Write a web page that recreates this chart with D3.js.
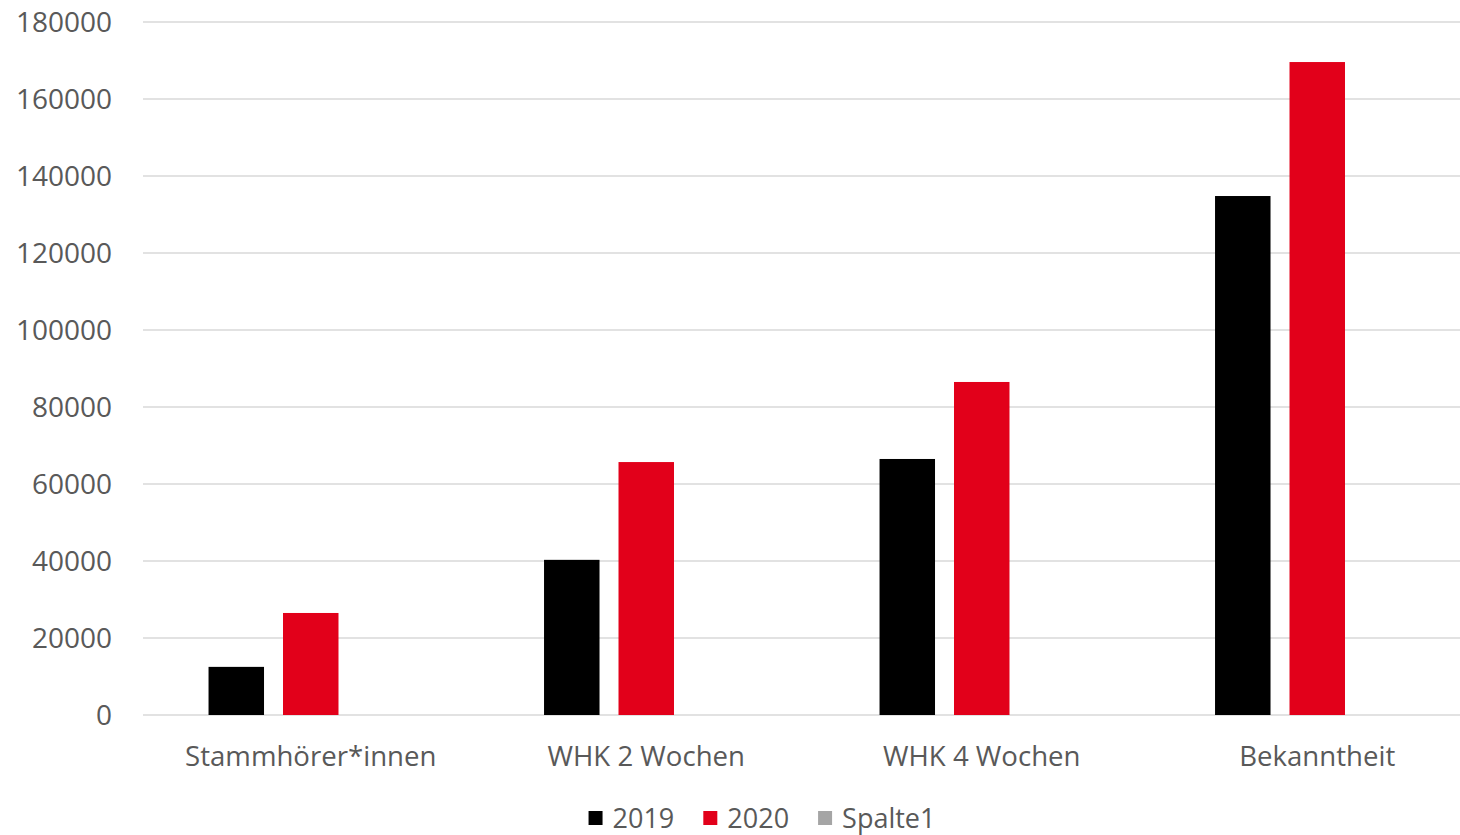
<!DOCTYPE html>
<html>
<head>
<meta charset="utf-8">
<script src="https://cdn.jsdelivr.net/npm/d3@7"></script>
<style>
  body { margin: 0; background: #fff; }
  text { font-family: "Open Sans", sans-serif; fill: #595959; }
</style>
</head>
<body>
<div id="chart"></div>
<script>
// categories and series
const categories = ["Stammhörer*innen", "WHK 2 Wochen", "WHK 4 Wochen", "Bekanntheit"];
const seriesNames = ["2019", "2020", "Spalte1"];
const values2019 = [12500, 40300, 66500, 134800];
const values2020 = [26500, 65700, 86500, 169600];
const valuesSpalte1 = [0, 0, 0, 0];
const yTicks = [0, 20000, 40000, 60000, 80000, 100000, 120000, 140000, 160000, 180000];
const colors = ["#000000", "#e2001a", "#a5a5a5"];

const width = 1460, height = 835;
const svg = d3.select("#chart").append("svg")
  .attr("width", width)
  .attr("height", height);

// plot area runs a bit past the right edge, like the cropped original
const x0 = d3.scaleBand().domain(categories).range([143, 1485]);
const x1 = d3.scaleBand().domain(seriesNames).range([0, x0.bandwidth()])
  .paddingInner(0.255).paddingOuter(0.88);
const y = d3.scaleLinear().domain([0, 180000]).range([715, 22]);

// gridlines
svg.append("g").selectAll("line")
  .data(yTicks)
  .enter().append("line")
  .attr("x1", 143).attr("x2", width)
  .attr("y1", d => y(d)).attr("y2", d => y(d))
  .attr("stroke", "#d9d9d9")
  .attr("stroke-width", 1.5);

// y axis labels
svg.append("g").selectAll("text")
  .data(yTicks)
  .enter().append("text")
  .attr("x", 112)
  .attr("y", d => y(d))
  .attr("dy", "0.36em")
  .attr("text-anchor", "end")
  .style("font-size", "28px")
  .text(d => d);

// bars
const allValues = [values2019, values2020, valuesSpalte1];
const groups = svg.append("g").selectAll("g")
  .data(categories)
  .enter().append("g")
  .attr("transform", d => `translate(${x0(d)},0)`);

groups.selectAll("rect")
  .data((c, i) => seriesNames.map((s, j) => ({ s: s, v: allValues[j][i], j: j })))
  .enter().append("rect")
  .attr("x", d => x1(d.s))
  .attr("width", x1.bandwidth())
  .attr("y", d => y(d.v))
  .attr("height", d => y(0) - y(d.v))
  .attr("fill", d => colors[d.j]);

// category labels, centred on the middle series
svg.append("g").selectAll("text")
  .data(categories)
  .enter().append("text")
  .attr("x", d => x0(d) + x1("2020") + x1.bandwidth() / 2)
  .attr("y", 766)
  .attr("text-anchor", "middle")
  .style("font-size", "27.6px")
  .text(d => d);

// legend
const legend = svg.append("g");
let lx = 0;
seriesNames.forEach((s, i) => {
  const item = legend.append("g").attr("transform", `translate(${lx},0)`);
  item.append("rect")
    .attr("x", 0).attr("y", -7)
    .attr("width", 14).attr("height", 14)
    .attr("fill", colors[i]);
  const t = item.append("text")
    .attr("x", 24).attr("y", 0)
    .attr("dy", "0.36em")
    .style("font-size", "27px")
    .text(s);
  lx += 24 + t.node().getComputedTextLength() + 29;
});
const legendWidth = lx - 29;
legend.attr("transform", `translate(${(762 - legendWidth / 2)},818)`);
</script>
</body>
</html>
